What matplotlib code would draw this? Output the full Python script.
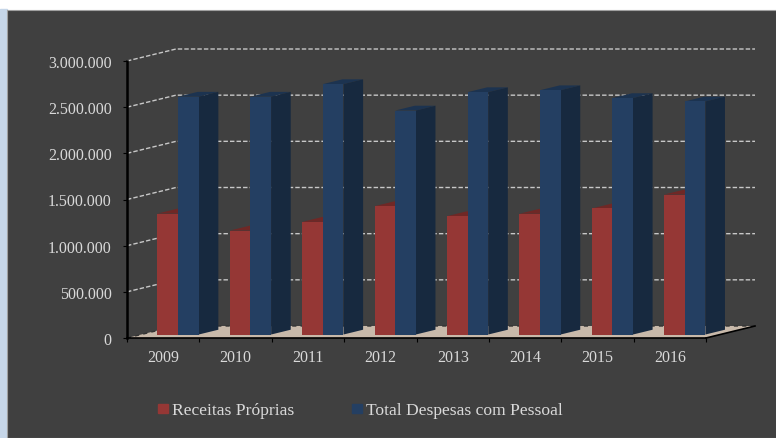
import numpy as np
import matplotlib
matplotlib.use("Agg")
import matplotlib.pyplot as plt
from matplotlib.patches import Rectangle

years = ['2009', '2010', '2011', '2012', '2013', '2014', '2015', '2016']
receitas = [1310000, 1126000, 1220000, 1390000, 1282000, 1308000, 1365000, 1516000]
despesas = [2576000, 2576000, 2712000, 2426000, 2625000, 2646000, 2561000, 2524000]
y_ticks = [0, 500000, 1000000, 1500000, 2000000, 2500000, 3000000]
y_labels = ['0', '500.000', '1.000.000', '1.500.000', '2.000.000', '2.500.000', '3.000.000']
legend_names = ['Receitas Próprias', 'Total Despesas com Pessoal']

W, H = 776, 439
BG = '#404040'
RED, RED_TOP = '#953735', '#6f2826'
BLUE, BLUE_TOP, BLUE_SIDE = '#243f62', '#1c3350', '#17293f'
TXT = '#d9d9d9'
FONT = 'Liberation Serif'

fig = plt.figure(figsize=(W / 100, H / 100), dpi=100, facecolor='white')
fig.patches.append(Rectangle((0, 0), 7 / W, 1 - 10 / H, transform=fig.transFigure, color='#c6d6e8', zorder=-2))
fig.patches.append(Rectangle((7 / W, 0), 1, 1 - 11 / H, transform=fig.transFigure,
                             facecolor=BG, edgecolor='#a0a0a0', linewidth=0.8, zorder=-1))

# eixo frontal do grafico, em pixels da imagem
ax = fig.add_axes([127 / W, (H - 339) / H, 579 / W, 277 / H])
ax.set_facecolor('none')
ax.set_xlim(0, 8)
ax.set_ylim(0, 3000000)

# passo de profundidade: 49 px para a direita, 12 px para cima
DX = 49 / (579 / 8)
DY = 12 / (277 / 3000000)


def shear(x, v, d):
    # ponto (x, v) deslocado na profundidade d
    return x + d * DX, v + d * DY


def face(points, color, z, **kw):
    xs = [p[0] for p in points]
    ys = [p[1] for p in points]
    ax.fill(xs, ys, color=color, zorder=z, clip_on=False, linewidth=0, **kw)


# piso
face([shear(0, 0, 0), shear(8, 0, 0), shear(8, 0, 1), shear(0, 0, 1)], '#c8b9aa', 1)

# grades tracejadas
for t in y_ticks[1:]:
    x0, y0 = shear(0, t, 0)
    x1, y1 = shear(0, t, 1)
    x2, y2 = shear(8, t, 1)
    ax.plot([x0, x1, x2], [y0, y1, y2], color='#c8c8c8', lw=1, ls=(0, (3.2, 1.5)), zorder=2, clip_on=False)
x1, y1 = shear(0, 0, 1)
x2, y2 = shear(8, 0, 1)
ax.plot([0, x1, x2], [0, y1, y2], color='#333333', lw=1, ls=(0, (3, 3)), zorder=2, clip_on=False)
x3, y3 = shear(8, 0, 0)
ax.plot([x3, x2], [y3, y2], color='black', lw=1.2, zorder=3, clip_on=False)

# barras
D0, D1 = 0.29, 0.69
for i in range(len(years)):
    a, b, c = i + 0.225, i + 0.51, i + 0.795
    r = receitas[i]
    v = despesas[i]
    face([shear(a, r, D0), shear(b, r, D0), shear(b, r, D1), shear(a, r, D1)], RED_TOP, 4)
    face([shear(a, 0, D0), shear(b, 0, D0), shear(b, r, D0), shear(a, r, D0)], RED, 5)
    face([shear(b, v, D0), shear(c, v, D0), shear(c, v, D1), shear(b, v, D1)], BLUE_TOP, 6)
    face([shear(c, 0, D0), shear(c, 0, D1), shear(c, v, D1), shear(c, v, D0)], BLUE_SIDE, 6)
    face([shear(b, 0, D0), shear(c, 0, D0), shear(c, v, D0), shear(b, v, D0)], BLUE, 7)

# eixos
for s in ['top', 'right']:
    ax.spines[s].set_visible(False)
ax.spines['left'].set_color('black')
ax.spines['left'].set_linewidth(1.8)
ax.spines['bottom'].set_color('black')
ax.spines['bottom'].set_linewidth(1.2)
ax.spines['left'].set_zorder(8)
ax.spines['bottom'].set_zorder(8)
ax.set_yticks(y_ticks)
ax.set_yticklabels(y_labels, fontfamily=FONT, fontsize=11.5, color=TXT)
ax.set_xticks(np.arange(9))
ax.set_xticklabels([])
ax.set_xticks(np.arange(8) + 0.5, minor=True)
ax.set_xticklabels(years, minor=True, fontfamily=FONT, fontsize=11.5, color=TXT)
ax.tick_params(axis='y', length=3, width=0.8, color='black', pad=8)
ax.tick_params(axis='x', which='major', length=3, width=0.8, color='black')
ax.tick_params(axis='x', which='minor', length=0, pad=8)

# legenda
fig.patches.append(Rectangle((158 / W, (H - 414) / H), 10 / W, 9 / H, transform=fig.transFigure, color=RED))
fig.patches.append(Rectangle((352 / W, (H - 414) / H), 10 / W, 9 / H, transform=fig.transFigure, color=BLUE))
fig.text(172 / W, (H - 411) / H, legend_names[0], color=TXT, family=FONT, fontsize=12.6, va='center')
fig.text(366 / W, (H - 411) / H, legend_names[1], color=TXT, family=FONT, fontsize=12.6, va='center')

fig.savefig('out.png', dpi=100, facecolor=fig.get_facecolor())
